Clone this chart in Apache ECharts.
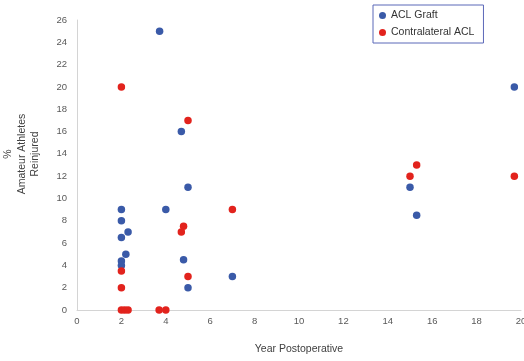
<!DOCTYPE html>
<html>
<head>
<meta charset="utf-8">
<script src="https://cdn.jsdelivr.net/npm/echarts@6/dist/echarts.min.js"></script>
<style>html,body{margin:0;padding:0;background:#fff;}#c{width:524px;height:361px;}</style>
</head>
<body>
<div id="c"></div>
<script>
// Data
const seriesNames = ['ACL Graft', 'Contralateral ACL'];
const graftX = [3.72, 4.7, 5.0, 2.0, 4.0, 2.0, 2.3, 2.0, 2.2, 2.0, 2.0, 4.8, 5.0, 7.0, 15.0, 15.3, 19.7];
const graftY = [25, 16, 11, 9, 9, 8, 7, 6.5, 5, 4.4, 4.0, 4.5, 2, 3, 11, 8.5, 20];
const contraX = [2.0, 5.0, 7.0, 4.8, 4.7, 5.0, 2.0, 2.0, 2.0, 2.15, 2.3, 3.7, 4.0, 15.0, 15.3, 19.7];
const contraY = [20, 17, 9, 7.5, 7, 3, 3.5, 2, 0, 0, 0, 0, 0, 12, 13, 12];
const xTitle = 'Year Postoperative';
const yTitleLines = ['%', 'Amateur Athletes', 'Reinjured'];

const zip = (xs, ys) => xs.map((x, i) => [x, ys[i]]);
const font = 'Liberation Sans, Arial, sans-serif';

const chart = echarts.init(document.getElementById('c'), null, {renderer: 'canvas'});
chart.setOption({
  animation: false,
  backgroundColor: '#fff',
  grid: {left: 77, right: 3, top: 20, bottom: 51, containLabel: false, outerBoundsMode: 'none'},
  legend: {
    orient: 'vertical',
    left: 373, top: 5,
    padding: [5, 9, 5, 6],
    itemGap: 6,
    itemWidth: 7, itemHeight: 7,
    icon: 'circle',
    borderColor: '#5b68b8',
    borderWidth: 1,
    borderRadius: 0,
    textStyle: {fontFamily: font, fontSize: 10.5, color: '#333'},
    data: seriesNames
  },
  xAxis: {
    type: 'value', min: 0, max: 20, interval: 2,
    name: xTitle, nameLocation: 'middle', nameGap: 34,
    nameTextStyle: {fontFamily: font, fontSize: 10.5, color: '#404040'},
    axisLine: {show: true, lineStyle: {color: '#d4d4d4', width: 1}},
    axisTick: {show: false},
    splitLine: {show: false},
    axisLabel: {fontFamily: font, fontSize: 9.5, color: '#595959', margin: 6}
  },
  yAxis: {
    type: 'value', min: 0, max: 26, interval: 2,
    axisLine: {show: true, lineStyle: {color: '#d4d4d4', width: 1}},
    axisTick: {show: false},
    splitLine: {show: false},
    axisLabel: {fontFamily: font, fontSize: 9.5, color: '#595959', margin: 10}
  },
  graphic: [{
    type: 'text',
    x: 22, y: 154,
    rotation: Math.PI / 2,
    style: {
      text: yTitleLines.join('\n'),
      fontFamily: font, fontSize: 10.5, fill: '#404040',
      align: 'center', verticalAlign: 'middle', lineHeight: 13.5
    }
  }],
  series: [
    {name: seriesNames[0], type: 'scatter', symbol: 'circle', symbolSize: 7.5,
     itemStyle: {color: '#3a5aa8', opacity: 1}, data: zip(graftX, graftY)},
    {name: seriesNames[1], type: 'scatter', symbol: 'circle', symbolSize: 7.5,
     itemStyle: {color: '#e2231d', opacity: 1}, data: zip(contraX, contraY)}
  ]
});
</script>
</body>
</html>
